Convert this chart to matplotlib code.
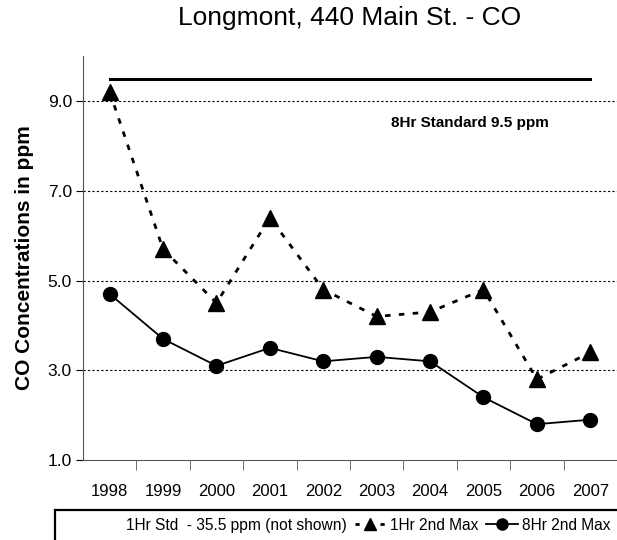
import matplotlib
matplotlib.use('Agg')
import matplotlib.pyplot as plt
from matplotlib.lines import Line2D
from matplotlib.patches import Rectangle

years = ['1998', '1999', '2000', '2001', '2002', '2003', '2004', '2005', '2006', '2007']
hr1_2nd_max = [9.2, 5.7, 4.5, 6.4, 4.8, 4.2, 4.3, 4.8, 2.8, 3.4]
hr8_2nd_max = [4.7, 3.7, 3.1, 3.5, 3.2, 3.3, 3.2, 2.4, 1.8, 1.9]
standard_8hr = 9.5
y_ticks = [1.0, 3.0, 5.0, 7.0, 9.0]

plt.rcParams['font.family'] = ['Liberation Sans', 'DejaVu Sans']

fig = plt.figure(figsize=(6.17, 5.40), dpi=100)
ax = fig.add_axes([0.1345, 0.148, 0.8655, 0.748])

x = list(range(len(years)))

# 8hr standard line
ax.plot([x[0], x[-1]], [standard_8hr, standard_8hr], color='black', lw=2.2)
ax.text(6.75, 8.5, '8Hr Standard 9.5 ppm', ha='center', va='center',
        fontsize=11, fontweight='bold')

ax.plot(x, hr1_2nd_max, color='black', lw=2.0, linestyle=(0, (2.0, 3.0)),
        marker='^', markersize=11)
ax.plot(x, hr8_2nd_max, color='black', lw=1.3, marker='o', markersize=10)

ax.set_xlim(-0.5, len(years) - 0.5)
ax.set_ylim(1.0, 10.0)
ax.set_yticks(y_ticks)
ax.set_yticklabels([f'{v:.1f}' for v in y_ticks], fontsize=12.5)
for v in y_ticks[1:]:
    ax.axhline(v, color='black', lw=0.8, linestyle=(0, (2, 2)), zorder=0)

# category labels, ticks between categories
ax.set_xticks(x)
ax.set_xticklabels(years, fontsize=12)
ax.tick_params(axis='x', which='major', length=0, pad=17)
ax.set_xticks([i + 0.5 for i in x[:-1]], minor=True)
ax.tick_params(axis='x', which='minor', length=7, direction='out', color='#555555')
ax.tick_params(axis='y', length=5, direction='out', pad=3)

ax.spines['top'].set_visible(False)
ax.spines['right'].set_visible(False)
ax.spines['left'].set_color('#555555')
ax.spines['bottom'].set_color('#555555')

ax.set_ylabel('CO Concentrations in ppm', fontsize=15, fontweight='bold', labelpad=10)
fig.text(350 / 617, 1 - 18 / 540, 'Longmont, 440 Main St. - CO', fontsize=19,
         ha='center', va='center')

# legend strip at the bottom
fig.add_artist(Rectangle((55 / 617, -0.05), 1.0, 0.05 + 30 / 540,
                         transform=fig.transFigure, facecolor='white',
                         edgecolor='black', lw=1.6))
handles = [
    Line2D([], [], linestyle='none'),
    Line2D([], [], color='black', lw=2.0, linestyle=(0, (1.5, 3.0)), marker='^', markersize=8),
    Line2D([], [], color='black', lw=1.3, marker='o', markersize=8),
]
labels = ['1Hr Std  - 35.5 ppm (not shown)', '1Hr 2nd Max', '8Hr 2nd Max']
fig.legend(handles, labels, loc='center', ncol=3, frameon=False,
           bbox_to_anchor=(0.568, 0.027), fontsize=11.2,
           handlelength=2.0, handletextpad=0.3, columnspacing=0.5,
           borderpad=0.0)

fig.savefig('out.png', dpi=100)
